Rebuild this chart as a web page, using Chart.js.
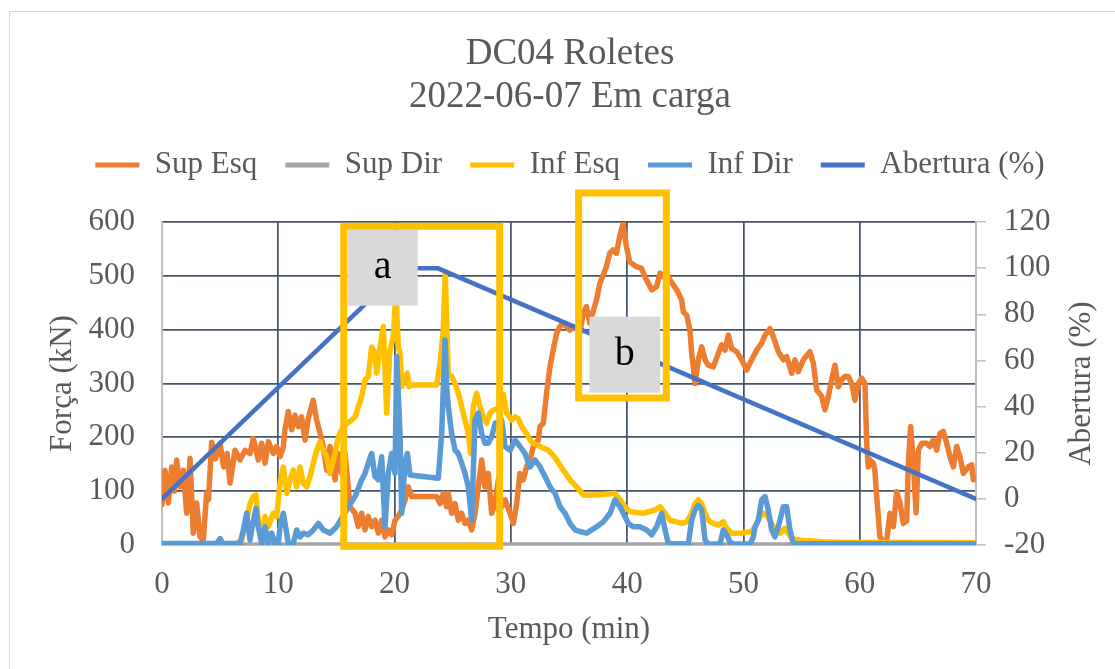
<!DOCTYPE html>
<html><head><meta charset="utf-8">
<script src="https://cdn.jsdelivr.net/npm/chart.js@4.4.0/dist/chart.umd.min.js"></script>
<style>
html,body{margin:0;padding:0;background:#fff;overflow:hidden;width:1115px;height:669px;}
#frame{position:absolute;left:9px;top:11px;width:1200px;height:720px;border:1.5px solid #D9D9D9;box-sizing:border-box;}
canvas{position:absolute;left:0;top:0;}
</style></head><body>
<div id="frame"></div>
<canvas id="c" width="1115" height="669"></canvas>
<script>
// ---------- DATA ----------
const titleLines = ['DC04 Roletes', '2022-06-07 Em carga'];
const seriesNames = ['Sup Esq', 'Sup Dir', 'Inf Esq', 'Inf Dir', 'Abertura (%)'];
const xTitle = 'Tempo (min)';
const yTitle = 'Força (kN)';
const y2Title = 'Abertura (%)';

const supEsqT = [0,0.26,0.54,0.83,1.05,1.26,1.55,1.83,2.12,2.41,2.69,2.98,3.27,3.55,3.84,4.0,4.27,4.6,4.99,5.3,5.6,5.85,6.28,6.71,7.14,7.57,7.85,8.28,8.57,8.86,9.15,9.57,9.86,10.15,10.43,10.57,10.86,11.15,11.44,11.72,12.0,12.3,12.58,13.0,13.3,13.6,13.87,14.16,14.45,14.88,15.17,15.45,15.74,16.17,16.6,16.88,17.17,17.46,17.74,18.03,18.32,18.6,18.89,19.18,19.46,19.75,20.04,20.32,20.61,20.9,21.18,21.47,23.62,23.91,24.19,24.48,24.62,24.91,25.2,25.48,25.77,26.06,26.34,26.63,26.92,27.2,27.49,27.78,28.06,28.35,28.64,28.92,29.21,29.5,29.93,30.21,30.5,30.78,31.07,31.35,31.64,31.93,32.36,32.5,32.79,33.07,33.36,33.64,33.93,34.22,34.5,35.07,35.65,35.93,36.22,36.5,36.79,37.36,37.65,38.22,38.5,38.79,39.08,39.36,39.65,39.94,40.22,40.8,41.23,41.53,41.82,42.11,42.54,42.83,43.11,43.4,43.69,44.26,44.69,44.83,45.12,45.4,45.55,45.69,45.83,46.12,46.41,46.7,46.98,47.41,47.84,48.13,48.42,48.7,48.99,49.42,49.85,50.28,50.71,51.14,51.57,51.86,52.28,52.57,53.0,53.43,53.72,54.15,54.43,54.72,55.15,55.72,56.01,56.3,56.73,57.01,57.3,57.59,57.87,58.16,58.45,58.73,59.02,59.31,59.59,59.88,60.17,60.45,60.6,60.74,60.88,61.17,61.3,61.46,61.74,62.03,62.17,62.32,62.6,62.89,63.18,63.47,63.75,64.04,64.18,64.38,64.61,64.85,65.04,65.33,65.76,66.04,66.33,66.62,66.9,67.19,67.48,67.76,68.05,68.34,68.62,68.91,69.34,69.63,69.77,70];
const supEsqV = [75,139,78,145,100,158,108,139,59,161,22,78,15,9,97,85,191,160,189,145,170,115,176,158,176,170,198,158,189,152,192,170,183,164,182,214,248,214,241,220,238,195,235,269,232,207,183,139,183,121,170,133,170,71,59,34,59,28,53,34,46,22,46,15,28,19,46,53,65,84,108,90,90,77,96,71,96,59,77,46,59,40,46,28,59,108,158,108,133,59,77,121,71,84,59,40,77,133,121,145,158,183,195,220,226,282,331,362,393,406,412,399,406,393,430,443,412,455,486,517,542,548,542,573,597,554,526,517,514,498,486,474,480,505,498,505,492,474,455,433,427,399,356,331,300,344,368,344,334,331,356,372,362,390,365,359,344,325,344,362,375,390,402,387,359,344,350,319,344,322,344,359,338,288,276,251,276,307,334,294,307,313,313,300,269,300,310,300,189,145,158,152,139,90,15,6,3,9,59,34,99,77,40,45,152,220,152,60,176,189,189,183,195,176,207,211,189,164,145,183,164,133,145,149,121,124];

const supDirT = [0, 70];
const supDirV = [0, 0];

const infEsqT = [0,6.0,6.42,6.85,7.28,7.57,7.85,8.08,8.28,8.57,8.86,9.14,9.57,9.86,10.15,10.43,10.72,11.01,11.29,11.58,11.87,12.15,12.44,12.73,13.01,13.3,13.59,13.87,14.16,14.45,14.88,15.17,15.6,15.89,16.31,16.6,16.88,17.17,17.46,17.74,18.03,18.32,18.46,18.75,19.03,19.32,19.6,19.89,20.12,20.32,20.47,20.61,20.9,21.1,21.25,21.4,23.62,23.91,24.19,24.36,24.52,24.62,24.91,25.2,25.48,25.77,26.06,26.34,26.54,26.77,27.06,27.35,27.63,27.92,28.2,28.49,28.78,29.07,29.35,29.64,30.07,30.36,30.64,30.93,31.36,31.65,31.93,32.51,33.22,33.51,33.94,34.51,35.09,35.66,36.23,37.38,38.96,39.39,39.82,40.25,41.39,42.4,42.83,43.26,43.69,44.26,44.69,45.12,45.55,45.83,46.12,46.41,46.7,46.98,47.41,47.84,48.27,48.56,48.99,49.85,50.71,51.0,51.43,51.71,52.0,52.28,52.71,53.14,53.57,53.86,54.15,54.86,56.87,58.3,70];
const infEsqV = [1,1,3,9,46,77,90,93,46,15,53,34,59,53,115,145,96,121,139,108,145,115,108,127,152,176,192,176,164,133,170,201,220,226,232,238,257,276,307,313,368,356,319,368,406,245,362,387,470,368,356,294,313,319,294,297,297,338,399,505,387,319,313,300,282,257,232,207,170,257,282,257,238,226,245,251,252,262,280,245,232,238,235,220,207,195,189,183,176,170,158,139,121,108,93,93,96,84,71,62,59,65,71,59,46,43,40,43,59,77,84,77,59,46,40,37,43,31,22,22,25,34,53,59,56,46,28,22,31,22,12,9,6,5,4];

const infDirT = [0,4.7,5.0,5.2,6.71,7.0,7.28,7.57,7.71,8.08,8.28,8.57,8.86,9.14,9.43,9.72,10.0,10.15,10.43,10.72,10.86,11.29,11.58,11.87,12.15,12.58,13.01,13.45,13.87,14.45,15.02,16.03,16.6,17.17,17.46,17.74,18.03,18.32,18.6,18.89,19.18,19.46,19.75,20.04,20.18,20.47,20.61,20.9,21.1,21.33,23.76,24.05,24.34,24.48,24.62,24.91,25.2,25.48,25.77,26.06,26.34,26.63,26.92,27.2,27.49,27.78,28.06,28.35,28.64,29.21,29.5,29.93,30.36,30.79,31.22,31.65,32.08,32.51,32.94,33.37,33.8,34.23,34.66,35.09,35.52,35.95,36.52,36.95,37.38,37.95,38.53,38.96,39.39,39.67,40.1,40.53,41.1,41.68,42.11,42.54,42.97,43.26,43.54,45.26,45.55,45.83,46.12,46.41,46.7,46.98,47.98,48.27,48.56,48.84,49.13,50.57,50.85,51.0,51.28,51.57,51.86,52.14,52.43,52.71,53.0,53.43,53.72,54.0,54.29,70];
const infDirV = [3,3,12,3,3,28,59,9,28,68,34,3,34,3,22,3,3,34,59,22,3,3,28,15,22,19,28,40,28,22,34,71,90,121,133,152,170,127,121,164,34,133,170,133,350,207,59,152,170,130,124,207,381,294,257,207,176,170,152,133,108,46,232,245,207,189,189,201,226,232,183,176,195,183,170,145,158,145,127,108,96,71,59,40,28,25,22,28,34,43,59,84,71,59,40,34,34,28,19,34,59,28,3,2,46,65,74,65,9,2,2,28,19,6,2,2,15,34,46,84,90,65,28,15,34,71,71,28,3,2];

const aberturaT = [0, 20.7, 23.7, 70];
const aberturaV = [0, 100, 100, 0];

const xTicks = {min: 0, max: 70, step: 10};
const yTicks = {min: 0, max: 600, step: 100};
const y2Ticks = {min: -20, max: 120, step: 20};

// ---------- ANNOTATIONS (in data units: minutes / kN) ----------
const annotations = [
  {label: 'a', frame: [15.63, 29.04, -2.4, 592], tag: [15.94, 21.99, 444.5, 585.1]},
  {label: 'b', frame: [35.83, 43.37, 273.1, 653.9], tag: [36.75, 42.83, 282.9, 424.1]}
];

// ---------- STYLE ----------
const FONT = 'Liberation Serif';
const TXT = '#595959';
const GRID = '#44546A';
const AXIS = '#BFBFBF';
const colors = ['#ED7D31', '#A5A5A5', '#FFC000', '#5B9BD5', '#4472C4'];

function pts(ts, vs) { return ts.map((t, i) => ({x: t, y: vs[i]})); }

const seriesData = [pts(supEsqT, supEsqV), pts(supDirT, supDirV), pts(infEsqT, infEsqV), pts(infDirT, infDirV), pts(aberturaT, aberturaV)];

const datasets = seriesData.map((d, i) => ({
  label: seriesNames[i],
  data: d,
  borderColor: colors[i],
  backgroundColor: colors[i],
  borderWidth: i === 4 ? 4.5 : 5.5,
  pointRadius: 0,
  tension: 0,
  fill: false,
  borderJoinStyle: 'round',
  borderCapStyle: 'round',
  yAxisID: i === 4 ? 'y1' : 'y',
  order: 5 - i
}));

const annotPlugin = {
  id: 'annot',
  afterDatasetsDraw(chart) {
    const {ctx, scales} = chart;
    const x = scales.x, y = scales.y;
    ctx.save();
    annotations.forEach(a => {
      const fx0 = x.getPixelForValue(a.frame[0]), fx1 = x.getPixelForValue(a.frame[1]);
      const fy0 = y.getPixelForValue(a.frame[2]), fy1 = y.getPixelForValue(a.frame[3]);
      ctx.strokeStyle = '#FFC000';
      ctx.lineWidth = 7;
      ctx.lineJoin = 'miter';
      ctx.strokeRect(fx0, fy1, fx1 - fx0, fy0 - fy1);
      const tx0 = x.getPixelForValue(a.tag[0]), tx1 = x.getPixelForValue(a.tag[1]);
      const ty0 = y.getPixelForValue(a.tag[2]), ty1 = y.getPixelForValue(a.tag[3]);
      ctx.fillStyle = '#D9D9D9';
      ctx.fillRect(tx0, ty1, tx1 - tx0, ty0 - ty1);
      ctx.fillStyle = '#000000';
      ctx.font = '40px "' + FONT + '"';
      ctx.textAlign = 'center';
      ctx.textBaseline = 'middle';
      ctx.fillText(a.label, (tx0 + tx1) / 2, (ty0 + ty1) / 2);
    });
    ctx.restore();
  },
  afterDraw(chart) {
    const {ctx, chartArea} = chart;
    const s = chart.scales.y1;
    ctx.save();
    ctx.translate(s.right - 33, (chartArea.top + chartArea.bottom) / 2);
    ctx.rotate(-Math.PI / 2);
    ctx.fillStyle = TXT;
    ctx.font = '31px "' + FONT + '"';
    ctx.textAlign = 'center';
    ctx.textBaseline = 'middle';
    ctx.fillText(y2Title, 0, 0);
    ctx.restore();
  }
};

const tickFont = {family: FONT, size: 31};

new Chart(document.getElementById('c'), {
  type: 'line',
  data: {datasets},
  plugins: [annotPlugin],
  options: {
    responsive: false,
    animation: false,
    layout: {padding: {left: 25, right: 0, top: 0, bottom: 0}},
    plugins: {
      title: {display: true, text: titleLines, color: TXT, font: {family: FONT, size: 37, weight: 'normal', lineHeight: '43px'}, padding: {top: 33, bottom: 2.5}},
      subtitle: {display: true, text: '', weight: 500, font: {family: FONT, size: 10, lineHeight: '31.5px'}, padding: 0},
      legend: {
        display: true, position: 'top',
        labels: {
          color: TXT, font: {family: FONT, size: 31}, boxWidth: 44, boxHeight: 5, padding: 28,
          sort: (a, b) => a.datasetIndex - b.datasetIndex,
          generateLabels: chart => Chart.defaults.plugins.legend.labels.generateLabels(chart).map(l => Object.assign({}, l, {fillStyle: l.strokeStyle, lineWidth: 0}))
        }
      },
      tooltip: {enabled: false}
    },
    scales: {
      x: {
        type: 'linear', position: 'bottom', min: xTicks.min, max: xTicks.max,
        ticks: {stepSize: xTicks.step, color: TXT, font: tickFont, padding: 21, maxRotation: 0},
        grid: {color: c => (c.tick && (c.tick.value === xTicks.min || c.tick.value === xTicks.max)) ? 'rgba(0,0,0,0)' : GRID, lineWidth: 1.75, drawTicks: false},
        border: {color: AXIS, width: 2},
        title: {display: true, text: xTitle, color: TXT, font: tickFont, padding: {top: 0, bottom: 21}},
        afterFit(s) { s.height = 124; }
      },
      y: {
        type: 'linear', position: 'left', min: yTicks.min, max: yTicks.max,
        ticks: {stepSize: yTicks.step, color: TXT, font: tickFont, padding: 27},
        grid: {color: c => (c.tick && c.tick.value === yTicks.min) ? 'rgba(0,0,0,0)' : GRID, lineWidth: 1.75, drawTicks: false},
        border: {color: AXIS, width: 2},
        title: {display: true, text: yTitle, color: TXT, font: tickFont, padding: {top: 19, bottom: 0}},
        afterFit(s) { s.width = 137; }
      },
      y1: {
        type: 'linear', position: 'right', min: y2Ticks.min, max: y2Ticks.max,
        ticks: {stepSize: y2Ticks.step, color: TXT, font: tickFont, padding: 18},
        grid: {drawOnChartArea: false, drawTicks: true, tickLength: 10, color: AXIS, lineWidth: 1.5},
        border: {color: AXIS, width: 2},
        title: {display: false},
        afterFit(s) { s.width = 139; }
      }
    }
  }
});
</script></body></html>
